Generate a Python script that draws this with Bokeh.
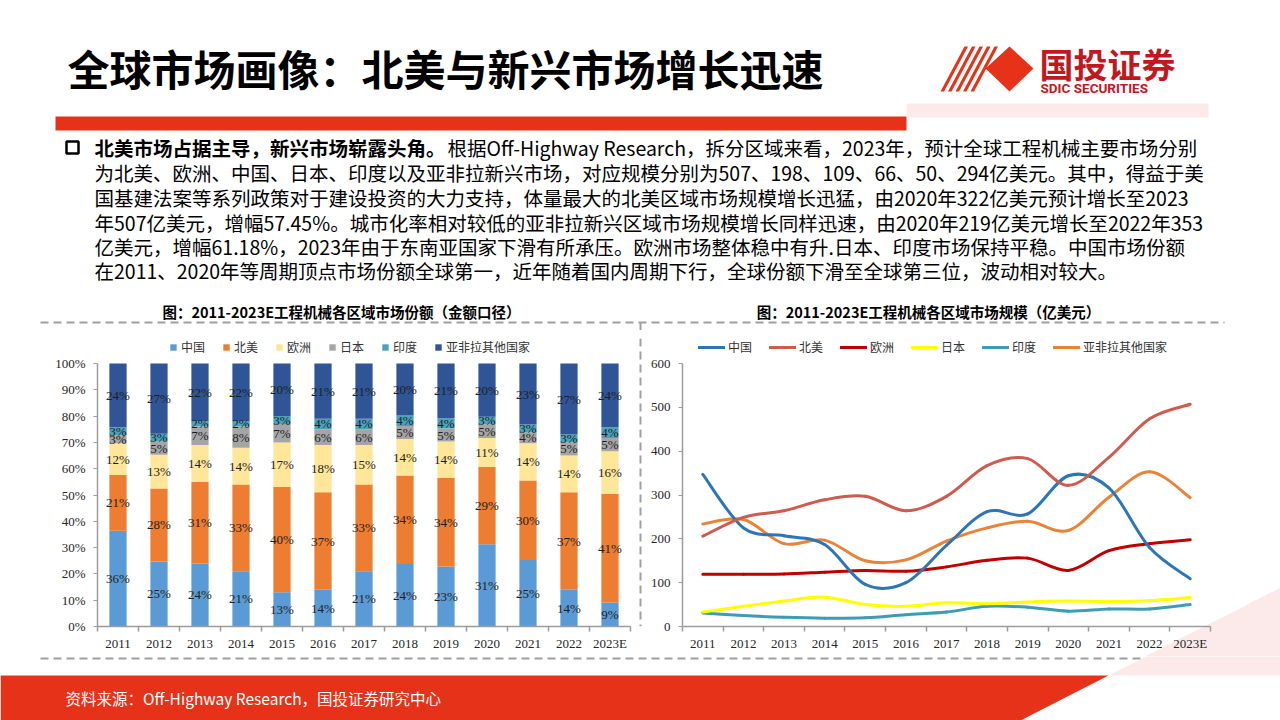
from bokeh.plotting import figure
from bokeh.models import (Range1d, FixedTicker, PrintfTickFormatter, Legend,
                          LegendItem, ColumnDataSource)
from bokeh.layouts import column, row
from bokeh.embed import file_html
from bokeh.resources import INLINE
from bokeh.core.properties import value

# ---------------- data ----------------
years = ["2011", "2012", "2013", "2014", "2015", "2016", "2017",
         "2018", "2019", "2020", "2021", "2022", "2023E"]
regions = ["中国", "北美", "欧洲", "日本", "印度", "亚非拉其他国家"]

share_china = [36, 25, 24, 21, 13, 14, 21, 24, 23, 31, 25, 14, 9]
share_na = [21, 28, 31, 33, 40, 37, 33, 34, 34, 29, 30, 37, 41]
share_eu = [12, 13, 14, 14, 17, 18, 15, 14, 14, 11, 14, 14, 16]
share_jp = [3, 5, 7, 8, 7, 6, 6, 5, 5, 5, 4, 5, 5]
share_in = [3, 3, 2, 2, 3, 4, 4, 4, 4, 3, 3, 3, 4]
share_other = [24, 27, 22, 22, 20, 21, 21, 20, 21, 20, 23, 27, 24]

size_china = [347, 225, 207, 187, 96, 100, 185, 262, 257, 344, 316, 180, 109]
size_na = [206, 249, 264, 289, 297, 264, 297, 367, 383, 322, 386, 474, 507]
size_eu = [119, 119, 120, 124, 128, 126, 136, 151, 156, 128, 173, 189, 198]
size_jp = [33, 46, 58, 67, 50, 46, 54, 52, 56, 58, 57, 59, 66]
size_in = [31, 25, 21, 19, 20, 27, 33, 46, 44, 35, 40, 40, 50]
size_other = [234, 244, 189, 197, 150, 152, 195, 225, 240, 219, 295, 353, 294]

title_text = "全球市场画像：北美与新兴市场增长迅速"
para_bold = "北美市场占据主导，新兴市场崭露头角。"
para_lines = [
    "根据Off-Highway Research，拆分区域来看，2023年，预计全球工程机械主要市场分别",
    "为北美、欧洲、中国、日本、印度以及亚非拉新兴市场，对应规模分别为507、198、109、66、50、294亿美元。其中，得益于美",
    "国基建法案等系列政策对于建设投资的大力支持，体量最大的北美区域市场规模增长迅猛，由2020年322亿美元预计增长至2023",
    "年507亿美元，增幅57.45%。城市化率相对较低的亚非拉新兴区域市场规模增长同样迅速，由2020年219亿美元增长至2022年353",
    "亿美元，增幅61.18%，2023年由于东南亚国家下滑有所承压。欧洲市场整体稳中有升.日本、印度市场保持平稳。中国市场份额",
    "在2011、2020年等周期顶点市场份额全球第一，近年随着国内周期下行，全球份额下滑至全球第三位，波动相对较大。",
]
chart1_title = "图：2011-2023E工程机械各区域市场份额（金额口径）"
chart2_title = "图：2011-2023E工程机械各区域市场规模（亿美元）"
source_text = "资料来源：Off-Highway Research，国投证券研究中心"

bar_colors = ["#5B9BD5", "#ED7D31", "#FFE699", "#A5A5A5", "#4AA3BC", "#2F5597"]
line_colors = ["#2E75B6", "#CD5C4E", "#C00000", "#FFFF00", "#3C9CB4", "#E8833A"]

RED = "#E63219"
PINK = "#FCEAEB"
CJK = value("Noto Sans CJK SC")
SERIF = value("Liberation Serif")
DASH_COL = "#A0A0A0"


def deco_fig(width, height, x0, x1, y0, y1):
    p = figure(width=width, height=height, x_range=Range1d(x0, x1),
               y_range=Range1d(y1, y0), output_backend="svg",
               toolbar_location=None, x_axis_location=None,
               y_axis_location=None, min_border=0)
    p.grid.visible = False
    p.outline_line_color = None
    return p


# ---------------- header (page y 0..330) ----------------
hdr = deco_fig(1280, 330, 0, 1280, 0, 330)
hdr.text(x=[67], y=[67], text=[title_text], text_font=CJK,
         text_font_style="bold", text_font_size="42px",
         text_baseline="middle", text_color="#000000")
hdr.quad(left=[55], right=[906], top=[116], bottom=[130],
         fill_color=RED, line_color=None)
hdr.quad(left=[906], right=[1208], top=[103], bottom=[117],
         fill_color=PINK, line_color=None)
# logo
for k in range(5):
    bx = 940 + k * 7.5
    hdr.patch(x=[bx, bx + 3.5, bx + 3.5 + 24, bx + 24],
              y=[91, 91, 46, 46], fill_color=RED, line_color=None)
hdr.patch(x=[985, 1009, 1033, 1009], y=[68, 46, 68, 91],
          fill_color=RED, line_color=None)
hdr.text(x=[1039], y=[63], text=["国投证券"], text_font=CJK,
         text_font_style="bold", text_font_size="34px",
         text_baseline="middle", text_color="#C1181F")
hdr.text(x=[1040], y=[87], text=["SDIC SECURITIES"], text_font=value("Roboto"),
         text_font_style="bold", text_font_size="13.5px",
         text_baseline="middle", text_color="#C1181F")
# paragraph
hdr.quad(left=[66], right=[78], top=[141], bottom=[153],
         fill_color=None, line_color="#000000", line_width=2.5)
line_y = [147, 172, 197, 222, 246, 270]
hdr.text(x=[94], y=[line_y[0]], text=[para_bold], text_font=CJK,
         text_font_style="bold", text_font_size="19.5px",
         text_baseline="middle", text_color="#000000")
hdr.text(x=[447], y=[line_y[0]], text=[para_lines[0]], text_font=CJK,
         text_font_size="19.5px", text_baseline="middle", text_color="#000000")
hdr.text(x=[94] * 5, y=line_y[1:], text=para_lines[1:], text_font=CJK,
         text_font_size="19.5px", text_baseline="middle", text_color="#000000")
# chart titles
hdr.text(x=[341, 928], y=[311, 311], text=[chart1_title, chart2_title],
         text_font=CJK, text_font_style="bold", text_font_size="14.5px",
         text_align="center", text_baseline="middle", text_color="#000000")
hdr.segment(x0=[40], y0=[322], x1=[1224], y1=[322], line_color=DASH_COL,
            line_width=2, line_dash="8 5")
hdr.segment(x0=[640], y0=[322], x1=[640], y1=[330], line_color=DASH_COL,
            line_width=2, line_dash="8 5")


# ---------------- axes styling ----------------
def style_axes(p, ymax):
    p.grid.visible = False
    p.outline_line_color = None
    for ax in p.axis:
        ax.axis_line_color = "#9C9C9C"
        ax.axis_line_width = 1.5
        ax.major_label_text_font = "Liberation Serif"
        ax.major_label_text_font_size = "13px"
        ax.major_label_text_color = "#262626"
        ax.minor_tick_line_color = None
    p.xaxis.ticker = FixedTicker(ticks=list(range(len(years))),
                                 minor_ticks=[i - 0.5 for i in range(len(years) + 1)])
    p.xaxis.major_label_overrides = {i: y for i, y in enumerate(years)}
    p.xaxis.major_tick_line_color = None
    p.xaxis.major_tick_out = 0
    p.xaxis.major_tick_in = 0
    p.xaxis.major_label_standoff = 4
    p.xaxis.minor_tick_line_color = "#9C9C9C"
    p.xaxis.minor_tick_line_width = 1.5
    p.xaxis.minor_tick_out = 5
    p.xaxis.minor_tick_in = 0
    p.yaxis.bounds = (0, ymax)
    p.yaxis.major_tick_line_color = "#9C9C9C"
    p.yaxis.major_tick_out = 4
    p.yaxis.major_tick_in = 0
    p.yaxis.major_label_standoff = 8


# frames: page y 338..626 (value top at 363)
EXT = 25.0 / 263.0

# ---------------- left chart: stacked shares ----------------
left = figure(width=636, height=326, x_range=Range1d(-0.5, 12.5),
              y_range=Range1d(0, 100 * (1 + EXT)), output_backend="svg",
              toolbar_location=None, min_border_left=97, min_border_right=6,
              min_border_top=8, min_border_bottom=30)
shares = [share_china, share_na, share_eu, share_jp, share_in, share_other]
keys = ["s%d" % i for i in range(6)]
data = {"x": list(range(len(years)))}
for k, s in zip(keys, shares):
    data[k] = [v * 100.0 / sum(col) for v, col in zip(s, zip(*shares))]
src = ColumnDataSource(data)
bars = left.vbar_stack(keys, x="x", width=0.42, color=bar_colors, source=src,
                       line_color=None)
lx, ly, lt = [], [], []
base = [0.0] * len(years)
for k, s in zip(keys, shares):
    for i in range(len(years)):
        h = data[k][i]
        lx.append(i)
        ly.append(base[i] + h / 2)
        lt.append("%d%%" % s[i])
        base[i] += h
left.text(x=lx, y=ly, text=lt, text_font=SERIF, text_font_size="13px",
          text_align="center", text_baseline="middle", text_color="#1E1E1E")
left.yaxis.ticker = FixedTicker(ticks=list(range(0, 101, 10)))
left.yaxis.formatter = PrintfTickFormatter(format="%d%%")
style_axes(left, 100)
leg1 = Legend(items=[LegendItem(label=r, renderers=[b]) for r, b in zip(regions, bars)],
              orientation="horizontal", location=(72, 271),
              label_text_font="Noto Sans CJK SC", label_text_font_size="12px",
              label_text_color="#333333", glyph_width=8, glyph_height=8,
              label_standoff=4, spacing=17, padding=0, margin=0,
              label_height=12, border_line_color=None, background_fill_alpha=0)
left.add_layout(leg1, "center")

# ---------------- divider ----------------
div = deco_fig(8, 326, 636, 644, 330, 656)
div.segment(x0=[640], y0=[330], x1=[640], y1=[656], line_color=DASH_COL,
            line_width=2, line_dash="8 5")

# ---------------- right chart: market size lines ----------------
right = figure(width=636, height=326, x_range=Range1d(-0.5, 12.5),
               y_range=Range1d(0, 600 * (1 + EXT)), output_backend="svg",
               toolbar_location=None, min_border_left=38, min_border_right=70,
               min_border_top=8, min_border_bottom=30,
               styles={"background-image": "linear-gradient(to bottom right, rgba(255,255,255,0) 50%, #FCEAEB 50%)",
                       "background-size": "134px 68px",
                       "background-position": "right bottom",
                       "background-repeat": "no-repeat"})
right.border_fill_color = None
right.background_fill_color = None


def smooth(p, vals, color):
    n = len(vals)
    xs = list(range(n))
    d = {k: [] for k in ["x0", "y0", "x1", "y1", "cx0", "cy0", "cx1", "cy1"]}
    for i in range(n - 1):
        pm = max(i - 1, 0)
        pp = min(i + 2, n - 1)
        d["x0"].append(xs[i]); d["y0"].append(vals[i])
        d["x1"].append(xs[i + 1]); d["y1"].append(vals[i + 1])
        d["cx0"].append(xs[i] + (xs[i + 1] - xs[pm]) / 6.0)
        d["cy0"].append(vals[i] + (vals[i + 1] - vals[pm]) / 6.0)
        d["cx1"].append(xs[i + 1] - (xs[pp] - xs[i]) / 6.0)
        d["cy1"].append(vals[i + 1] - (vals[pp] - vals[i]) / 6.0)
    return p.bezier(source=ColumnDataSource(d), x0="x0", y0="y0", x1="x1", y1="y1",
                    cx0="cx0", cy0="cy0", cx1="cx1", cy1="cy1",
                    line_color=color, line_width=3, line_cap="round")


sizes = [size_china, size_na, size_eu, size_jp, size_in, size_other]
draw_order = [4, 3, 2, 5, 0, 1]
rends = {}
for i in draw_order:
    rends[i] = smooth(right, sizes[i], line_colors[i])
right.yaxis.ticker = FixedTicker(ticks=list(range(0, 601, 100)))
style_axes(right, 600)
leg2 = Legend(items=[LegendItem(label=regions[i], renderers=[rends[i]]) for i in range(6)],
              orientation="horizontal", location=(16, 271),
              label_text_font="Noto Sans CJK SC", label_text_font_size="12px",
              label_text_color="#333333", glyph_width=27, glyph_height=12,
              label_standoff=3, spacing=17, padding=0, margin=0,
              label_height=12, border_line_color=None, background_fill_alpha=0)
right.add_layout(leg2, "center")

# ---------------- footer (page y 656..720) ----------------
ftr = deco_fig(1280, 64, 0, 1280, 656, 720)
ftr.segment(x0=[40], y0=[658], x1=[1224], y1=[658], line_color=DASH_COL,
            line_width=2, line_dash="8 5")
ftr.patch(x=[1108, 1280, 1280], y=[675, 675, 588], fill_color=PINK, line_color=None)
ftr.patch(x=[0, 1108, 1020, 0], y=[675, 675, 720, 720], fill_color=RED, line_color=None)
ftr.text(x=[65], y=[697], text=[source_text], text_font=CJK,
         text_font_size="15.5px", text_baseline="middle", text_color="#FFFFFF")

layout = column(hdr, row(left, div, right), ftr)
open("out.html", "w").write(file_html(layout, INLINE))
